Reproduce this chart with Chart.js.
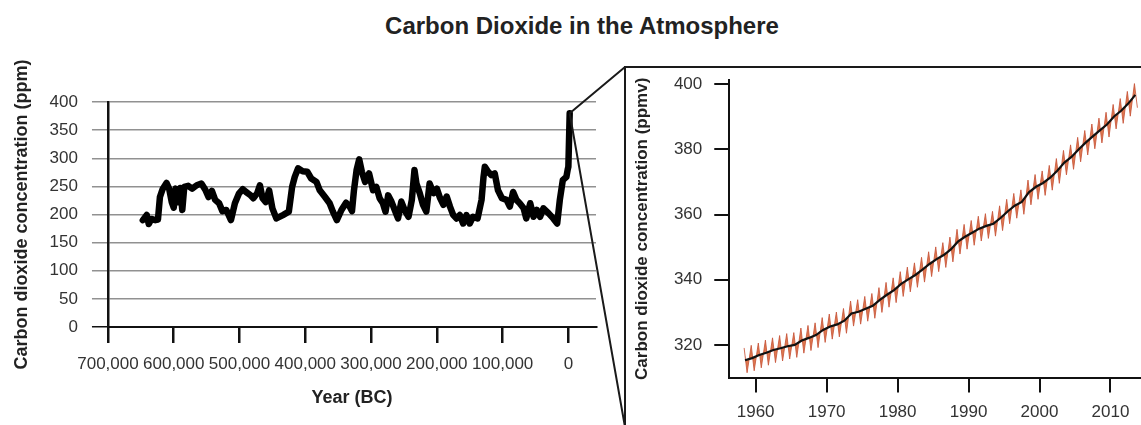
<!DOCTYPE html>
<html>
<head>
<meta charset="utf-8">
<title>Carbon Dioxide in the Atmosphere</title>
<script src="https://cdn.jsdelivr.net/npm/chart.js@4.4.1/dist/chart.umd.min.js"></script>
<style>
  html, body { margin: 0; padding: 0; background: #fff; }
  #page { position: relative; width: 1141px; height: 425px; overflow: hidden; font-family: "Liberation Sans", Arial, sans-serif; }
  #title { position: absolute; top: 13px; left: 582px; transform: translateX(-50%); font-weight: bold; font-size: 24px; line-height: 26px; color: #222; white-space: nowrap; }
  #histChart { position: absolute; left: 0; top: 0; }
  #zoomBox { position: absolute; left: 624px; top: 66px; width: 515px; height: 357px; border-top: 2px solid #1a1a1a; border-left: 2px solid #1a1a1a; }
  #maunaChart { position: absolute; left: 626px; top: 56px; }
  #overlay { position: absolute; left: 0; top: 0; pointer-events: none; }
</style>
</head>
<body>
<div id="page">
  <div id="title">Carbon Dioxide in the Atmosphere</div>
  <canvas id="histChart" width="612" height="425"></canvas>
  <div id="zoomBox"></div>
  <canvas id="maunaChart" width="515" height="378"></canvas>
  <canvas id="overlay" width="1141" height="425"></canvas>
</div>
<script>
// Ice core record: years BC and CO2 (ppm)
const iceYears = [647000, 641000, 638000, 634000, 628000, 624000, 621000, 617000, 611000, 607000,
  603000, 600000, 597000, 593000, 590000, 587000, 584000, 578000, 572000, 565000,
  558000, 552000, 547000, 542000, 537000, 531000, 526000, 520000, 513000, 507000,
  501000, 495000, 490000, 484000, 479000, 473000, 469000, 465000, 460000, 455000,
  450000, 444000, 434000, 425000, 420000, 416000, 411000, 404000, 397000, 391000,
  383000, 378000, 370000, 363000, 358000, 352000, 345000, 338000, 333000, 329000,
  326000, 322000, 318000, 314000, 309000, 303000, 297000, 292000, 287000, 282000,
  278000, 274000, 269000, 264000, 259000, 254000, 249000, 243000, 238000, 234000,
  231000, 226000, 221000, 216000, 211000, 205000, 200000, 195000, 190000, 185000,
  180000, 175000, 170000, 165000, 160000, 155000, 150000, 145000, 138000, 132000,
  129000, 127000, 122000, 117000, 112000, 107000, 101000, 94000, 89000, 84000,
  79000, 74000, 68000, 64000, 58000, 53000, 48000, 43000, 38000, 30000,
  23000, 17000, 13000, 8500, 3000, 1000, 0, -2000];
const icePpm = [190, 199, 183, 192, 190, 191, 231, 245, 256, 246,
  222, 212, 246, 222, 247, 208, 249, 251, 246, 252,
  255, 244, 231, 242, 226, 220, 206, 208, 190, 220,
  237, 245, 240, 235, 229, 238, 252, 229, 222, 243,
  211, 193, 199, 205, 249, 267, 282, 277, 276, 264,
  258, 243, 231, 220, 205, 190, 208, 221, 215, 206,
  243, 279, 298, 276, 258, 273, 243, 249, 229, 220,
  205, 234, 223, 208, 193, 223, 208, 196, 226, 279,
  255, 238, 217, 205, 255, 238, 246, 229, 217, 232,
  214, 199, 193, 199, 184, 199, 184, 196, 193, 226,
  267, 285, 276, 270, 273, 243, 229, 226, 214, 240,
  226, 220, 211, 193, 220, 196, 208, 196, 211, 202,
  193, 184, 226, 261, 267, 280, 285, 380];
const iceTicks = [700000, 600000, 500000, 400000, 300000, 200000, 100000, 0];
const ppmTicks = [0, 50, 100, 150, 200, 250, 300, 350, 400];

// Mauna Loa record: annual mean, seasonal high (May) and low (October), ppmv
const maunaYears = [1958, 1959, 1960, 1961, 1962, 1963, 1964, 1965, 1966, 1967,
  1968, 1969, 1970, 1971, 1972, 1973, 1974, 1975, 1976, 1977,
  1978, 1979, 1980, 1981, 1982, 1983, 1984, 1985, 1986, 1987,
  1988, 1989, 1990, 1991, 1992, 1993, 1994, 1995, 1996, 1997,
  1998, 1999, 2000, 2001, 2002, 2003, 2004, 2005, 2006, 2007,
  2008, 2009, 2010, 2011, 2012, 2013];
const maunaMean = [315.3, 315.98, 316.91, 317.64, 318.45, 318.99, 319.62, 320.04, 321.37, 322.18,
  323.05, 324.62, 325.68, 326.32, 327.46, 329.68, 330.19, 331.12, 332.03, 333.84,
  335.41, 336.84, 338.76, 340.12, 341.48, 343.15, 344.85, 346.35, 347.61, 349.31,
  351.69, 353.20, 354.45, 355.70, 356.54, 357.21, 358.96, 360.97, 362.74, 363.88,
  366.84, 368.54, 369.71, 371.32, 373.45, 375.98, 377.70, 379.98, 382.09, 384.02,
  385.83, 387.64, 390.10, 391.85, 394.06, 396.74];
const maunaHigh = [319.1, 319.9, 320.6, 321.5, 322.2, 322.9, 323.5, 323.8, 325.2, 326.0,
  326.8, 328.4, 329.5, 330.1, 331.2, 333.5, 333.9, 334.9, 335.8, 337.6,
  339.2, 340.6, 342.5, 343.9, 345.2, 346.9, 348.6, 350.1, 351.4, 353.1,
  355.5, 357.0, 358.2, 359.5, 360.3, 361.0, 362.7, 364.7, 366.5, 367.6,
  370.6, 372.3, 373.4, 375.1, 377.2, 379.7, 381.4, 383.7, 385.8, 387.8,
  389.6, 391.4, 393.8, 395.6, 397.8, 400.2];
const maunaLow = [311.5, 312.1, 313.0, 313.8, 314.6, 315.1, 315.7, 316.2, 317.5, 318.3,
  319.2, 320.8, 321.8, 322.5, 323.6, 325.8, 326.4, 327.3, 328.2, 330.0,
  331.6, 333.0, 334.9, 336.3, 337.7, 339.3, 341.0, 342.5, 343.8, 345.5,
  347.9, 349.4, 350.6, 351.9, 352.7, 353.4, 355.1, 357.2, 358.9, 360.1,
  363.0, 364.7, 365.9, 367.5, 369.6, 372.2, 373.9, 376.2, 378.3, 380.2,
  382.0, 383.8, 386.3, 388.0, 390.2, 392.8];
const highMonth = 5;
const lowMonth = 10;
const yearTicks = [1960, 1970, 1980, 1990, 2000, 2010];
const ppmvTicks = [320, 340, 360, 380, 400];

Chart.defaults.font.family = '"Liberation Sans", Arial, sans-serif';
Chart.defaults.color = '#333';

document.addEventListener("DOMContentLoaded", () => {
  const hist = cargarGraficoHistorico();
  cargarGraficoMaunaLoa();
  dibujarConectores(hist);
});

// Left panel: 650,000 years of ice core data
function cargarGraficoHistorico() {
  const ctx = document.getElementById("histChart");
  const points = iceYears.map((yr, i) => ({ x: yr, y: icePpm[i] }));

  return new Chart(ctx.getContext('2d'), {
    type: "line",
    data: {
      datasets: [{
        data: points,
        borderColor: "#000",
        borderWidth: 6.5,
        borderJoinStyle: "round",
        borderCapStyle: "round",
        pointRadius: 0,
        tension: 0,
        fill: false
      }]
    },
    options: {
      responsive: false,
      animation: false,
      layout: { padding: { top: 102, right: 16, bottom: 6, left: 0 } },
      plugins: { legend: { display: false }, tooltip: { enabled: false } },
      scales: {
        x: {
          type: "linear",
          reverse: true,
          min: -42000,
          max: 700000,
          afterBuildTicks: axis => { axis.ticks = iceTicks.map(v => ({ value: v })); },
          ticks: {
            autoSkip: false,
            maxRotation: 0,
            padding: 11,
            font: { size: 17 },
            callback: v => v.toLocaleString('en-US')
          },
          grid: { drawOnChartArea: false, tickLength: 16, color: "#111", lineWidth: 2.5 },
          border: { color: "#111", width: 2 },
          title: {
            display: true,
            text: "Year (BC)",
            color: "#222",
            font: { size: 18, weight: "bold" },
            padding: { top: 2, bottom: 10 }
          }
        },
        y: {
          min: 0,
          max: 400,
          afterBuildTicks: axis => { axis.ticks = ppmTicks.map(v => ({ value: v })); },
          ticks: { padding: 14, font: { size: 17 } },
          grid: {
            tickLength: 16,
            lineWidth: 1.5,
            color: c => (c.tick && c.tick.value === 0 ? "#111" : "#919191")
          },
          border: { color: "#111", width: 2.5 },
          title: {
            display: true,
            text: "Carbon dioxide concentration (ppm)",
            color: "#222",
            font: { size: 18, weight: "bold" },
            padding: { top: 11, bottom: 3 }
          }
        }
      }
    }
  });
}

// Right panel: Mauna Loa measurements since 1958
function cargarGraficoMaunaLoa() {
  const ctx = document.getElementById("maunaChart");
  const trend = maunaMean.map((v, i) => ({ x: maunaYears[i] + 0.5, y: v }));
  const seasonal = [];
  maunaYears.forEach((yr, i) => {
    seasonal.push({ x: yr + (highMonth - 0.5) / 12, y: maunaHigh[i] });
    seasonal.push({ x: yr + (lowMonth - 0.5) / 12, y: maunaLow[i] });
  });

  return new Chart(ctx.getContext('2d'), {
    type: "line",
    data: {
      datasets: [
        {
          label: "Annual mean",
          data: trend,
          borderColor: "#111",
          borderWidth: 2.2,
          pointRadius: 0,
          tension: 0,
          fill: false
        },
        {
          label: "Monthly",
          data: seasonal,
          borderColor: "rgba(200, 85, 58, 0.85)",
          backgroundColor: "#de7a50",
          borderWidth: 1,
          pointRadius: 0,
          tension: 0,
          fill: 0
        }
      ]
    },
    options: {
      responsive: false,
      animation: false,
      layout: { padding: { top: 24, right: 0, bottom: 1, left: 0 } },
      plugins: { legend: { display: false }, tooltip: { enabled: false } },
      scales: {
        x: {
          type: "linear",
          min: 1956.28,
          max: 2014.3,
          afterBuildTicks: axis => { axis.ticks = yearTicks.map(v => ({ value: v })); },
          ticks: { autoSkip: false, maxRotation: 0, padding: 10, font: { size: 17 }, callback: v => String(v) },
          grid: { drawOnChartArea: false, tickLength: 15, color: "#111", lineWidth: 2 },
          border: { color: "#111", width: 2 }
        },
        y: {
          min: 310,
          max: 401.3,
          afterBuildTicks: axis => { axis.ticks = ppmvTicks.map(v => ({ value: v })); },
          ticks: { padding: 12, font: { size: 17 } },
          grid: { drawOnChartArea: false, tickLength: 15, color: "#111", lineWidth: 2 },
          border: { color: "#111", width: 2 },
          title: {
            display: true,
            text: "Carbon dioxide concentration (ppmv)",
            color: "#222",
            font: { size: 17, weight: "bold" },
            padding: { top: 6.5, bottom: 9 }
          }
        }
      }
    }
  });
}

// Zoom lines from the last ice core point to the corners of the right panel
function dibujarConectores(chart) {
  const ctx = document.getElementById("overlay").getContext('2d');
  const last = iceYears.length - 1;
  const px = chart.scales.x.getPixelForValue(iceYears[last]);
  const py = chart.scales.y.getPixelForValue(icePpm[last]);
  const box = document.getElementById("zoomBox");
  const bx = box.offsetLeft + 1;
  const top = box.offsetTop + 1;
  const bottom = box.offsetTop + box.offsetHeight + 2;

  ctx.strokeStyle = "#1a1a1a";
  ctx.lineWidth = 2;
  ctx.beginPath();
  ctx.moveTo(px, py);
  ctx.lineTo(bx, top);
  ctx.moveTo(px, py);
  ctx.lineTo(bx, bottom);
  ctx.stroke();
}
</script>
</body>
</html>
